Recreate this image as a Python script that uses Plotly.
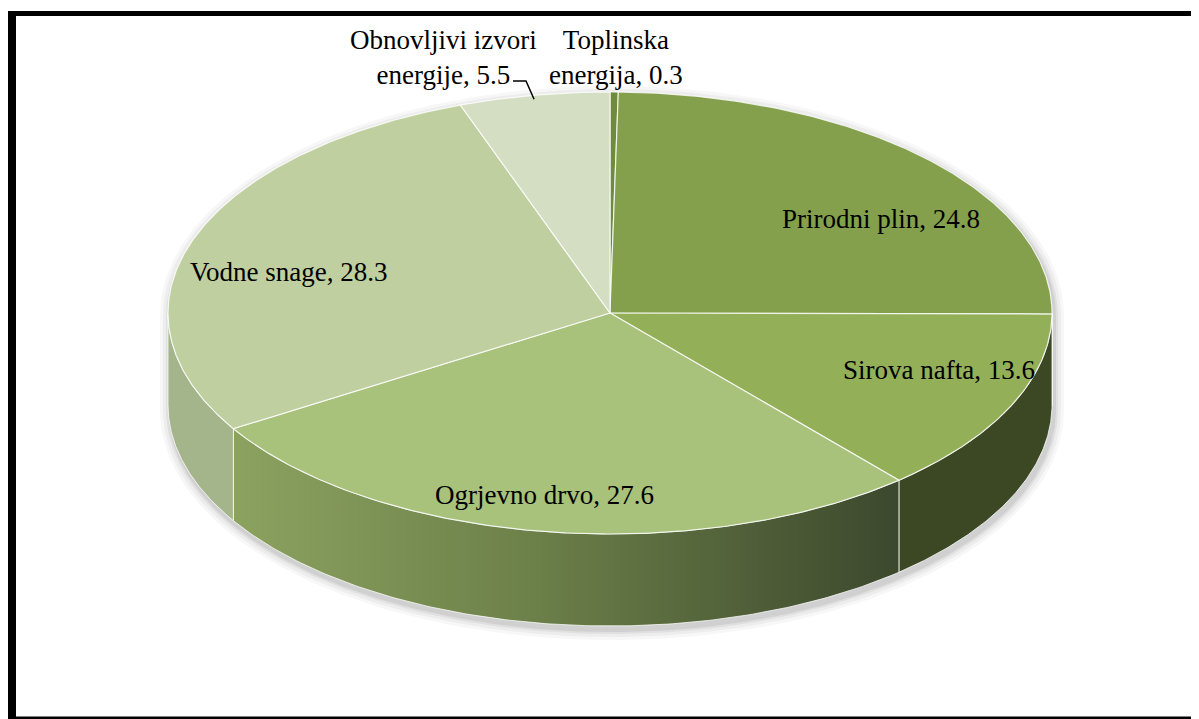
import numpy as np
import plotly.graph_objects as go

# ---------------- data ----------------
names = ["Toplinska<br>energija", "Prirodni plin", "Sirova nafta",
         "Ogrjevno drvo", "Vodne snage", "Obnovljivi izvori<br>energije"]
values = [0.3, 24.8, 13.6, 27.6, 28.3, 5.5]

# ---------------- styles ----------------
top_colors = ["#6f8b3e", "#84a04c", "#93b059", "#a8c17b", "#bfcf9f", "#d4dec3"]
side_colors = ["#4a5a2a", "#56682f", "#3c4824", None, "#a4b48b", "#b9c6a5"]
side_gradient = [[0.0, "#8ca260"], [0.45, "#6c8049"], [1.0, "#3c482d"]]
label_pos = [(616, 57), (881, 219), (939, 370), (544, 495), (288, 272), (443, 57)]

CX, CY, A, B, DEPTH = 610.0, 313.0, 442.0, 221.0, 92.0
W, H = 1199, 719
OFF = 8  # page body margin

total = sum(values)
bounds = np.concatenate([[0], np.cumsum(values)]) / total * 360.0


def ell(theta_deg, dy=0.0, r=1.0):
    t = np.radians(theta_deg)
    return CX + r * A * np.sin(t), CY - r * B * np.cos(t) + dy


fig = go.Figure()

# shadow (silhouette, soft)
sil_t1 = np.linspace(90, 270, 200)
sil_t2 = np.linspace(270, 450, 200)
for grow, op in [(10, 0.03), (7, 0.04), (4, 0.05), (2, 0.07)]:
    bx, by = ell(sil_t1, DEPTH)
    tx, ty = ell(sil_t2)
    sx = np.concatenate([bx, tx])
    sy = np.concatenate([by, ty])
    sx = CX + (sx - CX) * (1 + grow / A) + 2
    sy = CY + DEPTH / 2 + (sy - CY - DEPTH / 2) * (1 + grow / (B + DEPTH / 2)) + 4
    fig.add_trace(go.Scatter(x=sx, y=sy, mode="lines", fill="toself",
                             fillcolor=f"rgba(0,0,0,{op})", line=dict(width=0),
                             hoverinfo="skip", showlegend=False))

# sides (only the front half is visible)
for i in range(len(values)):
    t0, t1 = max(bounds[i], 90), min(bounds[i + 1], 270)
    if t1 <= t0:
        continue
    ts = np.linspace(t0, t1, 150)
    ux, uy = ell(ts)
    lx, ly = ell(ts[::-1], DEPTH)
    px = np.concatenate([ux, lx, ux[:1]])
    py = np.concatenate([uy, ly, uy[:1]])
    kw = dict(x=px, y=py, mode="lines", fill="toself",
              line=dict(color="rgba(255,255,255,0.75)", width=1),
              hoverinfo="skip", showlegend=False)
    if side_colors[i] is None:
        kw["fillgradient"] = dict(type="horizontal", colorscale=side_gradient)
    else:
        kw["fillcolor"] = side_colors[i]
    fig.add_trace(go.Scatter(**kw))

# top faces
for i in range(len(values)):
    ts = np.linspace(bounds[i], bounds[i + 1], max(4, int(values[i] * 8)))
    ax, ay = ell(ts)
    px = np.concatenate([[CX], ax, [CX]])
    py = np.concatenate([[CY], ay, [CY]])
    fig.add_trace(go.Scatter(x=px, y=py, mode="lines", fill="toself",
                             fillcolor=top_colors[i],
                             line=dict(color="rgba(255,255,255,0.8)", width=1.2),
                             hoverinfo="skip", showlegend=False))

# labels
for i, (n, v) in enumerate(zip(names, values)):
    lx, ly = label_pos[i]
    fig.add_annotation(x=lx, y=ly, text=f"{n}, {v}", showarrow=False,
                       font=dict(family="Liberation Serif, Times New Roman, serif",
                                 size=27, color="#000000"),
                       xanchor="center", yanchor="middle", align="center")

# leader line for the small "Obnovljivi izvori energije" slice
mid = (bounds[5] + bounds[6]) / 2
ex, ey = ell(mid, 4)
fig.add_trace(go.Scatter(x=[513, 526, ex], y=[81, 81, ey], mode="lines",
                         line=dict(color="#000000", width=1.5),
                         hoverinfo="skip", showlegend=False))

# frame
fig.add_shape(type="rect", x0=7, x1=16, y0=11, y1=730, fillcolor="#000000",
              line=dict(width=0), layer="above")
fig.add_shape(type="rect", x0=7, x1=1230, y0=11, y1=16, fillcolor="#000000",
              line=dict(width=0), layer="above")
fig.add_shape(type="rect", x0=7, x1=1230, y0=716.5, y1=730, fillcolor="#000000",
              line=dict(width=0), layer="above")

fig.update_layout(
    width=W, height=H - OFF,
    margin=dict(l=0, r=0, t=0, b=0),
    paper_bgcolor="#ffffff", plot_bgcolor="#ffffff",
    xaxis=dict(range=[OFF, W + OFF], visible=False, fixedrange=True),
    yaxis=dict(range=[H, OFF], visible=False, fixedrange=True),
    showlegend=False,
)

fig.write_html("out.html")
